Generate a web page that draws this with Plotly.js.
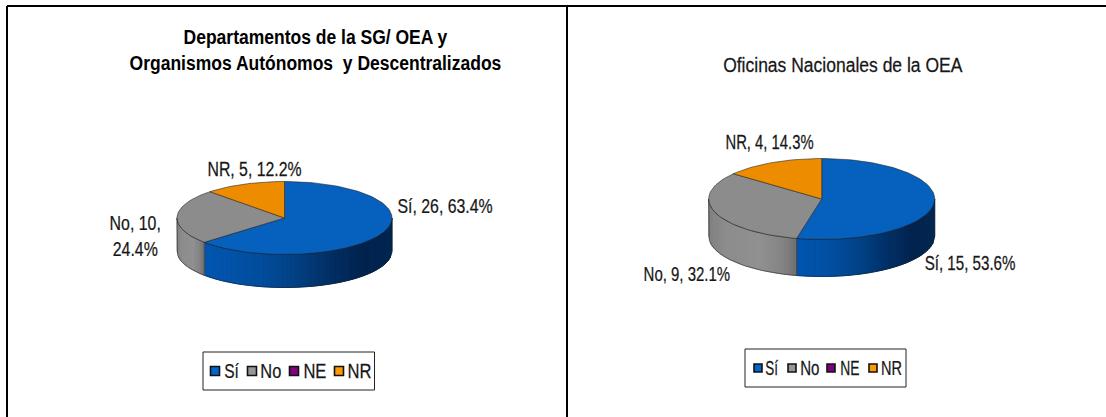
<!DOCTYPE html>
<html><head><meta charset="utf-8">
<script src="https://cdn.plot.ly/plotly-3.0.0.min.js"></script>
<style>html,body{margin:0;padding:0;background:#fff}#c{width:1106px;height:417px}</style>
</head><body><div id="c"></div>
<script>
const categories = ['Sí','No','NE','NR'];
const valuesLeft = [26,10,0,5];
const valuesRight = [15,9,0,4];
const legendColors = ['#0066CC','#969696','#800080','#FF9900'];
const topColors = ['#0560BE','#8C8C8C','#800080','#EE8C00'];
const titleLeft = ['Departamentos de la SG/ OEA y','Organismos Autónomos  y Descentralizados'];
const titleRight = 'Oficinas Nacionales de la OEA';

const FONT = '"Liberation Sans",Arial,sans-serif';
const TXT = '#151515';
const geoLeft = {cx:284.5, cy:218, rx:107.5, ry:36.5, depth:33};
const geoRight = {cx:821.7, cy:199, rx:113, ry:40.5, depth:37};

// side-wall shading, left to right across each slice
const blueStops = [[0,[0,86,176]],[0.3,[0,76,156]],[0.5,[0,63,128]],[0.7,[0,44,96]],[0.85,[0,35,78]],[1,[0,38,80]]];
const grayStops = [[0,[128,128,128]],[0.2,[140,140,140]],[0.6,[144,144,144]],[0.85,[132,132,132]],[1,[112,112,112]]];
const orangeStops = [[0,[190,110,0]],[1,[190,110,0]]];
const purpleStops = [[0,[90,0,90]],[1,[90,0,90]]];
const sideStops = [blueStops,grayStops,purpleStops,orangeStops];

function shade(stops,u){
  for(let i=1;i<stops.length;i++){
    if(u<=stops[i][0]){
      const a=stops[i-1],b=stops[i],t=Math.max(0,(u-a[0])/(b[0]-a[0]));
      return 'rgb('+a[1].map((v,k)=>Math.round(v+(b[1][k]-v)*t)).join(',')+')';
    }
  }
  return 'rgb('+stops[stops.length-1][1].join(',')+')';
}
const rad=d=>d*Math.PI/180;
const px=(g,a)=>g.cx+g.rx*Math.sin(rad(a));
const py=(g,a)=>g.cy-g.ry*Math.cos(rad(a));

function arcAngles(a0,a1,step){
  const out=[];
  const n=Math.max(1,Math.ceil((a1-a0)/step));
  for(let i=0;i<=n;i++) out.push(a0+(a1-a0)*i/n);
  return out;
}
function poly(color,xs,ys,line){
  return {type:'scatter',mode:'lines',x:xs,y:ys,fill:'toself',fillcolor:color,
    line:line||{color:color,width:1},hoverinfo:'skip',showlegend:false,xaxis:'x',yaxis:'y'};
}
function pie3d(vals,g){
  const total=vals.reduce((a,b)=>a+b,0);
  const traces=[];
  let start=0; const slices=[];
  vals.forEach((v,i)=>{const end=start+v/total*360; if(v>0) slices.push({i,a0:start,a1:end}); start=end;});
  // visible front half of the cylinder (90..270 degrees), cut in thin screen-wide strips
  slices.forEach(s=>{
    const a0=Math.max(s.a0,90),a1=Math.min(s.a1,270);
    if(a1<=a0) return;
    const xr=px(g,a0), xl=px(g,a1), n=Math.max(2,Math.ceil((xr-xl)/2));
    const angleAt=x=>180-Math.asin(Math.max(-1,Math.min(1,(x-g.cx)/g.rx)))*180/Math.PI;
    for(let k=0;k<n;k++){
      const x0=xl+(xr-xl)*k/n, x1=xl+(xr-xl)*(k+1)/n;
      const c=shade(sideStops[s.i],(k+0.5)/n);
      const a=angleAt(x0), b=angleAt(x1);
      traces.push(poly(c,[x0,x1,x1,x0,x0],
        [py(g,a),py(g,b),py(g,b)+g.depth,py(g,a)+g.depth,py(g,a)]));
    }
    const fwd=arcAngles(a0,a1,2), back=fwd.slice().reverse();
    traces.push({type:'scatter',mode:'lines',
      x:fwd.map(a=>px(g,a)).concat(back.map(a=>px(g,a))).concat([px(g,a0)]),
      y:fwd.map(a=>py(g,a)).concat(back.map(a=>py(g,a)+g.depth)).concat([py(g,a0)]),
      line:{color:'rgba(30,30,30,0.7)',width:0.7},hoverinfo:'skip',showlegend:false});
  });
  slices.forEach(s=>{
    const as=arcAngles(s.a0,s.a1,2);
    const xs=[g.cx].concat(as.map(a=>px(g,a))).concat([g.cx]);
    const ys=[g.cy].concat(as.map(a=>py(g,a))).concat([g.cy]);
    traces.push(poly(topColors[s.i],xs,ys,{color:'rgba(30,30,30,0.8)',width:0.7}));
  });
  return traces;
}

function legendBits(box,markerX,textX,y,size,msize){
  const annos=categories.map((c,i)=>({x:textX[i],y:y,xref:'x',yref:'y',text:c,showarrow:false,xanchor:'center',yanchor:'middle',
    font:{family:FONT,size:size,color:TXT}}));
  const tr={type:'scatter',mode:'markers',x:markerX,y:markerX.map(()=>y),hoverinfo:'skip',showlegend:false,
    marker:{symbol:'square',size:msize,color:legendColors,line:{color:'#111',width:1.6}}};
  const sh={type:'rect',xref:'x',yref:'y',x0:box[0],x1:box[1],y0:box[2],y1:box[3],line:{color:'#222',width:1},fillcolor:'#fff',layer:'below'};
  return {annos,tr,sh};
}
const fmt=(i,vals)=>{const t=vals.reduce((a,b)=>a+b,0);return categories[i]+', '+vals[i]+', '+(vals[i]/t*100).toFixed(1)+'%';};
const label=(text,x,y)=>({x,y,xref:'x',yref:'y',text,showarrow:false,xanchor:'center',yanchor:'middle',font:{family:FONT,size:20,color:TXT}});

const lgL=legendBits([203,374.5,352,390],[215,252,294,339],[231.7,271.2,314.7,359.7],371,20,9);
const lgR=legendBits([745,906,349,387],[758,792,831,873],[771.8,809.7,849.7,891.2],368,20,8);

const frame=[[7,7,6,417],[7,1106,6,6],[567,567,6,417]].map(f=>({type:'line',xref:'x',yref:'y',x0:f[0],x1:f[1],y0:f[2],y1:f[3],line:{color:'#000',width:2}}));

const leftNoVal=valuesLeft[1]/valuesLeft.reduce((a,b)=>a+b,0)*100;
const annotations=[
  {x:315,y:50,xref:'x',yref:'y',text:'<b>'+titleLeft[0]+'</b><br><b>'+titleLeft[1]+'</b>',showarrow:false,xanchor:'center',yanchor:'middle',align:'center',font:{family:FONT,size:20,color:'#000'}},
  {x:843,y:65,xref:'x',yref:'y',text:titleRight,showarrow:false,xanchor:'center',yanchor:'middle',font:{family:FONT,size:20,color:'#151515'}},
  label(fmt(0,valuesLeft),444.5,206),
  label(fmt(3,valuesLeft),254,169),
  label(categories[1]+', '+valuesLeft[1]+',<br>'+leftNoVal.toFixed(1)+'%',135,236),
  label(fmt(3,valuesRight),769,142),
  label(fmt(0,valuesRight),969.5,262.5),
  label(fmt(1,valuesRight),687,274)
].concat(lgL.annos,lgR.annos);
// horizontal squeeze of each text (the source text is condensed): widest line in pixels
const textWidths=[372,240,95.5,94.3,51.3,88.3,91,86.7, 15,21,23,24, 13,19.3,19.3,21];

const data=[].concat(pie3d(valuesLeft,geoLeft),pie3d(valuesRight,geoRight),[lgL.tr,lgR.tr]);
const layout={width:1106,height:417,margin:{l:0,r:0,t:0,b:0},paper_bgcolor:'#fff',plot_bgcolor:'#fff',showlegend:false,
  xaxis:{range:[0,1106],visible:false,fixedrange:true},
  yaxis:{range:[417,0],visible:false,fixedrange:true},
  shapes:frame.concat([lgL.sh,lgR.sh]),annotations};
Plotly.newPlot('c',data,layout,{displayModeBar:false,staticPlot:true}).then(gd=>{
  gd.querySelectorAll('g.annotation').forEach((g,i)=>{
    const t=g.querySelector('text.annotation-text');
    if(!t||!textWidths[i]) return;
    const b=t.getBoundingClientRect(), cx=b.left+b.width/2, s=textWidths[i]/b.width;
    g.setAttribute('transform','translate('+cx+' 0) scale('+s+' 1) translate('+(-cx)+' 0)');
    if(i!==0){t.style.stroke='#222';t.style.strokeWidth='0.25px';}
  });
});
</script></body></html>
